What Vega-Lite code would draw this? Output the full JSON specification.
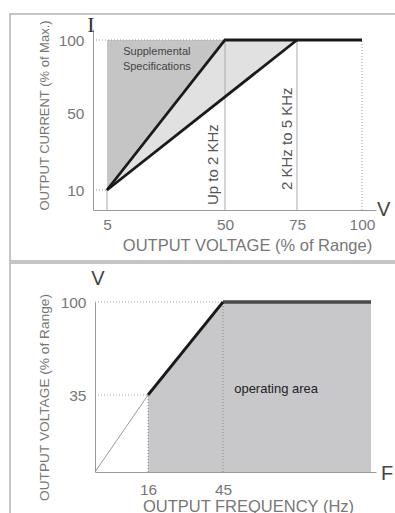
{
  "$schema": "https://vega.github.io/schema/vega-lite/v6.json",
  "padding": {"left": 9, "top": 13, "right": 0, "bottom": 0},
  "background": "white",
  "spacing": 0,
  "config": {
    "font": "Liberation Sans",
    "view": {"stroke": "#555", "strokeOpacity": 0.45, "strokeWidth": 1.5},
    "axis": {"ticks": false, "grid": false, "domainColor": "#9a9a9a", "domainWidth": 1, "labelColor": "#777", "labelFontSize": 15.5, "titleColor": "#777", "titleFontWeight": "normal", "titleFontSize": 16.5, "labelFlush": false, "labelOverlap": false}
  },
  "vconcat": [
    {
      "width": 400,
      "height": 247,
      "encoding": {
        "x": {"field": "x", "type": "quantitative",
          "scale": {"domain": [0, 5, 50, 75, 100, 105.5], "range": [83, 97, 215, 287, 352, 366], "nice": false, "zero": false},
          "axis": {"values": [5, 50, 75, 100], "offset": -51, "labelPadding": 7, "title": "OUTPUT VOLTAGE (% of Range)", "titleX": 237, "titleY": 40, "titleBaseline": "alphabetic", "titleAlign": "center"}},
        "y": {"field": "y", "type": "quantitative",
          "scale": {"domain": [0, 10, 50, 100, 108], "range": [196, 176, 99, 26, 15], "nice": false, "zero": false},
          "axis": {"values": [10, 50, 100], "offset": -83, "labelPadding": 9, "title": "OUTPUT CURRENT (% of Max.)", "titleFontSize": 13, "titleX": -45, "titleY": 101, "titleAngle": 270, "titleBaseline": "alphabetic", "titleAlign": "center"}}
      },
      "layer": [
        {"data": {"values": [{"x": 5, "y": 10, "y2": 100}, {"x": 75, "y": 100, "y2": 100}]},
         "mark": {"type": "area", "color": "#e1e1e1"},
         "encoding": {"y2": {"field": "y2"}}},
        {"data": {"values": [{"x": 5, "y": 10, "y2": 100}, {"x": 50, "y": 100, "y2": 100}]},
         "mark": {"type": "area", "color": "#c5c5c5"},
         "encoding": {"y2": {"field": "y2"}}},
        {"data": {"values": [{"x": 50, "y": 0, "x2": 50, "y2": 100}, {"x": 75, "y": 0, "x2": 75, "y2": 100}, {"x": 5, "y": 0, "x2": 5, "y2": 10}]},
         "mark": {"type": "rule", "color": "#aaaaaa", "strokeWidth": 1},
         "encoding": {"x2": {"field": "x2"}, "y2": {"field": "y2"}}},
        {"data": {"values": [{"x": 0, "y": 100, "x2": 50, "y2": 100}, {"x": 0, "y": 10, "x2": 5, "y2": 10}, {"x": 100, "y": 0, "x2": 100, "y2": 100}]},
         "mark": {"type": "rule", "color": "#999999", "strokeWidth": 1, "strokeDash": [1, 2]},
         "encoding": {"x2": {"field": "x2"}, "y2": {"field": "y2"}}},
        {"data": {"values": [{"x": 5, "y": 10, "s": "a"}, {"x": 50, "y": 100, "s": "a"}, {"x": 100, "y": 100, "s": "a"}, {"x": 5, "y": 10, "s": "b"}, {"x": 75, "y": 100, "s": "b"}]},
         "mark": {"type": "line", "color": "#1a1a1a", "strokeWidth": 2.8},
         "encoding": {"detail": {"field": "s"}}},
        {"data": {"values": [{"x": 24, "y": 92, "t": "Supplemental"}, {"x": 24, "y": 81.5, "t": "Specifications"}]},
         "mark": {"type": "text", "fontSize": 11, "color": "#444", "align": "center", "baseline": "middle"},
         "encoding": {"text": {"field": "t"}}},
        {"data": {"values": [{"x": 50, "y": 0, "t": "Up to 2 KHz"}]},
         "mark": {"type": "text", "fontSize": 15, "color": "#555", "angle": 270, "align": "left", "baseline": "alphabetic", "dx": 5, "dy": -7},
         "encoding": {"text": {"field": "t"}}},
        {"data": {"values": [{"x": 75, "y": 0, "t": "2 KHz to 5 KHz"}]},
         "mark": {"type": "text", "fontSize": 15, "color": "#555", "angle": 270, "align": "left", "baseline": "alphabetic", "dx": 20, "dy": -5.5},
         "encoding": {"text": {"field": "t"}}},
        {"data": {"values": [{"x": 0, "y": 108, "t": "I"}]},
         "mark": {"type": "text", "fontSize": 22, "font": "Liberation Serif", "color": "#333", "align": "center", "baseline": "alphabetic", "dx": -2, "dy": 3},
         "encoding": {"text": {"field": "t"}}},
        {"data": {"values": [{"x": 105.5, "y": 0, "t": "V"}]},
         "mark": {"type": "text", "fontSize": 20, "color": "#444", "align": "left", "baseline": "middle", "dx": 1},
         "encoding": {"text": {"field": "t"}}}
      ]
    },
    {
      "width": 400,
      "height": 260,
      "encoding": {
        "x": {"field": "x", "type": "quantitative",
          "scale": {"domain": [0, 16, 45, 98, 100], "range": [85, 138, 213, 361, 366], "nice": false, "zero": false},
          "axis": {"values": [16, 45], "offset": -51, "labelPadding": 10, "title": "OUTPUT FREQUENCY (Hz)", "titleX": 238, "titleY": 39, "titleBaseline": "alphabetic", "titleAlign": "center"}},
        "y": {"field": "y", "type": "quantitative",
          "scale": {"domain": [0, 35, 100], "range": [209, 132, 39], "nice": false, "zero": false},
          "axis": {"values": [35, 100], "offset": -85, "labelPadding": 9, "title": "OUTPUT VOLTAGE (% of Range)", "titleFontSize": 13.7, "titleX": -47, "titleY": 134, "titleAngle": 270, "titleBaseline": "alphabetic", "titleAlign": "center"}}
      },
      "layer": [
        {"data": {"values": [{"x": 16, "y": 0, "y2": 35}, {"x": 45, "y": 0, "y2": 100}, {"x": 98, "y": 0, "y2": 100}]},
         "mark": {"type": "area", "color": "#c8c8cb"},
         "encoding": {"y2": {"field": "y2"}}},
        {"data": {"values": [{"x": 0, "y": 0, "x2": 16, "y2": 35}]},
         "mark": {"type": "rule", "color": "#999999", "strokeWidth": 1},
         "encoding": {"x2": {"field": "x2"}, "y2": {"field": "y2"}}},
        {"data": {"values": [{"x": 0, "y": 35, "x2": 16, "y2": 35}, {"x": 0, "y": 100, "x2": 45, "y2": 100}]},
         "mark": {"type": "rule", "color": "#aaaaaa", "strokeWidth": 1, "strokeDash": [1, 2]},
         "encoding": {"x2": {"field": "x2"}, "y2": {"field": "y2"}}},
        {"data": {"values": [{"x": 16, "y": 0, "x2": 16, "y2": 35}, {"x": 45, "y": 0, "x2": 45, "y2": 100}]},
         "mark": {"type": "rule", "color": "#888888", "strokeWidth": 1, "strokeDash": [1, 2]},
         "encoding": {"x2": {"field": "x2"}, "y2": {"field": "y2"}}},
        {"data": {"values": [{"x": 45, "y": 100}, {"x": 98, "y": 100}]},
         "mark": {"type": "line", "color": "#4a4a4a", "strokeWidth": 3.5}},
        {"data": {"values": [{"x": 16, "y": 35}, {"x": 45, "y": 100}]},
         "mark": {"type": "line", "color": "#1a1a1a", "strokeWidth": 2.8}},
        {"data": {"values": [{"x": 49, "y": 39, "t": "operating area"}]},
         "mark": {"type": "text", "fontSize": 13, "color": "#222", "align": "left", "baseline": "middle"},
         "encoding": {"text": {"field": "t"}}},
        {"data": {"values": [{"x": 0, "y": 100, "t": "V"}]},
         "mark": {"type": "text", "fontSize": 20, "color": "#444", "align": "center", "baseline": "alphabetic", "dx": 3, "dy": -17},
         "encoding": {"text": {"field": "t"}}},
        {"data": {"values": [{"x": 100, "y": 0, "t": "F"}]},
         "mark": {"type": "text", "fontSize": 20, "color": "#444", "align": "left", "baseline": "middle", "dx": 5, "dy": 2},
         "encoding": {"text": {"field": "t"}}}
      ]
    }
  ]
}
